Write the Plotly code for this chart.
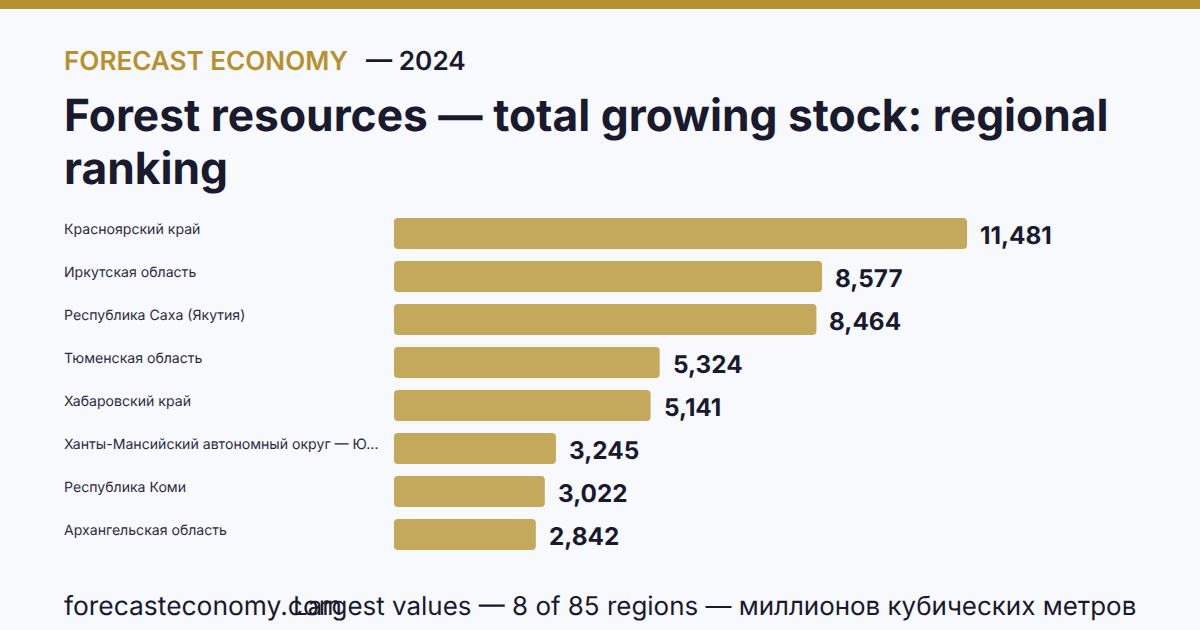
import plotly.graph_objects as go

regions = ["Красноярский край", "Иркутская область", "Республика Саха (Якутия)", "Тюменская область",
           "Хабаровский край", "Ханты-Мансийский автономный округ — Ю…", "Республика Коми", "Архангельская область"]
values = [11481, 8577, 8464, 5324, 5141, 3245, 3022, 2842]
value_labels = ["11,481", "8,577", "8,464", "5,324", "5,141", "3,245", "3,022", "2,842"]

W, H = 1200, 630
BG, GOLD, BAR, INK, SOFT = "#f8f9fd", "#b5922f", "#c4a95c", "#1a1a2e", "#2c2c3e"
FONT = "Inter"

def px(x): return x / W
def py(y): return 1 - y / H

# Plotly rounds only the far end of a bar, so each bar is two overlapping halves that round opposite ends.
bar_style = dict(y=regions, orientation="h", marker=dict(color=BAR, line_width=0), hoverinfo="skip")
fig = go.Figure()
fig.add_trace(go.Bar(x=[v * 0.6 for v in values], base=[v * 0.4 for v in values], **bar_style))
fig.add_trace(go.Bar(x=[-v * 0.6 for v in values], base=[v * 0.6 for v in values], **bar_style))

def text(s, x, y, size, color, weight=400, anchor="left"):
    fig.add_annotation(text=s, x=px(x), y=py(y), xref="paper", yref="paper", xanchor=anchor, yanchor="middle",
                       showarrow=False, font=dict(family=FONT, size=size, color=color, weight=weight), borderpad=0, borderwidth=0)

text("FORECAST ECONOMY", 64, 61, 26.1, GOLD, 600)
text("— 2024", 366, 61, 26.2, INK, 600)
text("Forest resources — total growing stock: regional", 64, 115, 44.3, INK, 700)
text("ranking", 64, 168, 44.3, INK, 700)
text("forecasteconomy.com", 64, 605, 26.4, INK, 400)
text("Largest values — 8 of 85 regions — миллионов кубических метров", 1136, 605, 25.95, INK, 400, "right")

for r, v, lab in zip(regions, values, value_labels):
    fig.add_annotation(text=lab, x=v, y=r, xref="x", yref="y", xanchor="left", yanchor="middle", xshift=11, yshift=-1.5,
                       showarrow=False, font=dict(family=FONT, size=24.3, color=INK, weight=700))
    fig.add_annotation(text=r, x=px(62), y=r, xref="paper", yref="y", xanchor="left", yanchor="middle", yshift=5,
                       showarrow=False, font=dict(family=FONT, size=14.1, color=SOFT, weight=400))

fig.add_shape(type="rect", xref="paper", yref="paper", x0=0, x1=1, y0=py(9), y1=1, fillcolor=GOLD, line_width=0)

fig.update_layout(width=W, height=H, autosize=False, margin=dict(l=0, r=0, t=0, b=0),
                  paper_bgcolor=BG, plot_bgcolor=BG, showlegend=False, barmode="overlay", bargap=12/43, barcornerradius=4,
                  xaxis=dict(domain=[px(394), px(1136)], range=[0, (1136-394)/(573/11481)], visible=False),
                  yaxis=dict(domain=[py(556), py(212)], autorange="reversed", visible=False, type="category"))
css = "var s=document.createElement('style');s.textContent='text{text-rendering:geometricPrecision !important}';document.head.appendChild(s);"
fig.write_html("out.html", config={"displayModeBar": False},
               post_script=css + "document.body.style.margin='0';document.documentElement.style.overflow='hidden';")
